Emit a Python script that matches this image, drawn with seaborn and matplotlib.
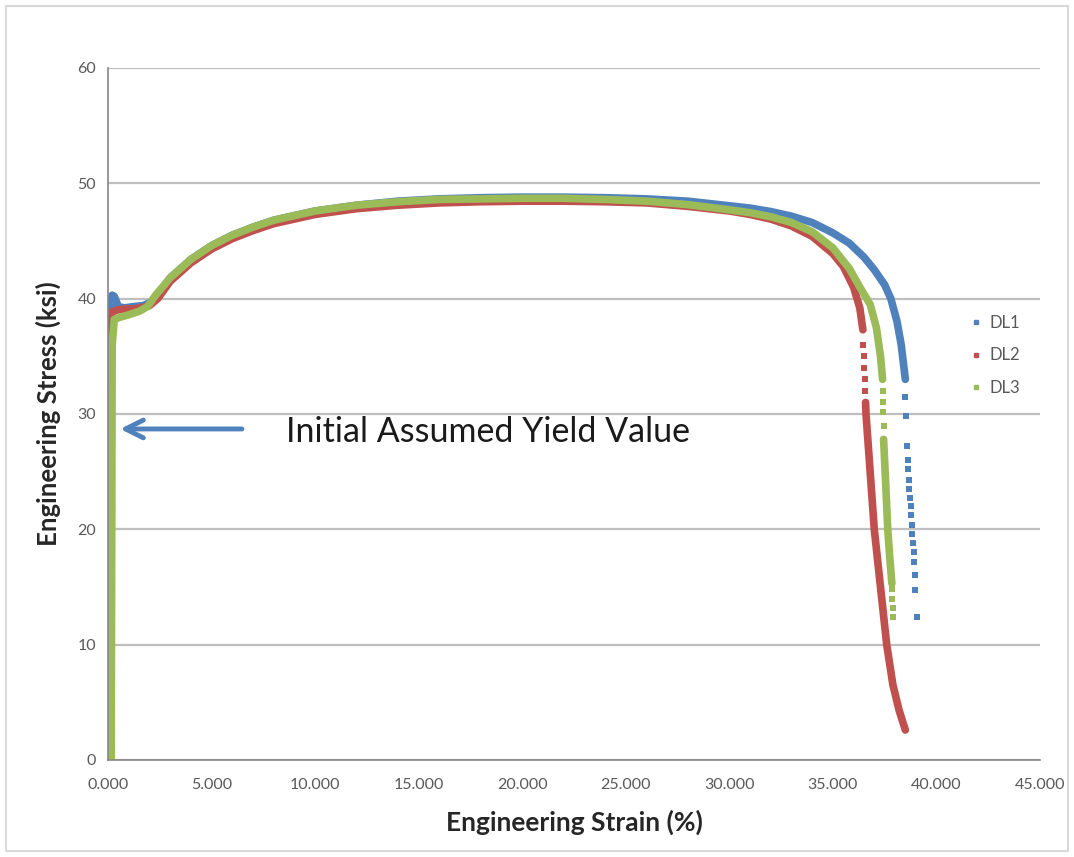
import matplotlib
matplotlib.use("Agg")
import matplotlib.pyplot as plt
from matplotlib.lines import Line2D
from matplotlib.patches import Rectangle
import seaborn as sns
import pandas as pd

# curvas (deformacion %, esfuerzo ksi)
dl1_strain = [0.05, 0.1, 0.15, 0.2, 0.3, 0.5, 0.8, 1.2, 1.7, 2.2, 2.5, 3, 4, 5, 6, 7, 8, 9, 10,
              12, 14, 16, 18, 20, 22, 24, 26, 28, 30, 31, 32, 33, 34, 35, 35.8, 36.5, 37,
              37.5, 37.8, 38.1, 38.3, 38.4, 38.5]
dl1_stress = [0, 20, 38, 40.3, 40.2, 39.3, 39.2, 39.3, 39.4, 39.8, 40.6, 41.8, 43.4, 44.6, 45.5,
              46.2, 46.8, 47.2, 47.6, 48.1, 48.45, 48.65, 48.75, 48.8, 48.8, 48.75, 48.65,
              48.45, 48.05, 47.85, 47.55, 47.15, 46.6, 45.7, 44.8, 43.6, 42.5, 41.2, 40.0,
              38.0, 36.0, 34.5, 33.0]
dl1_tail_strain = [38.5, 38.55, 38.6, 38.62, 38.65, 38.68, 38.7, 38.72, 38.75, 38.78, 38.8,
                   38.83, 38.86, 38.9, 38.93, 38.95, 38.97, 39.05]
dl1_tail_stress = [31.5, 29.8, 27.2, 26.0, 25.2, 24.3, 23.5, 22.7, 22.0, 21.2, 20.4, 19.6,
                   18.8, 18.0, 17.2, 16.0, 14.7, 12.4]

dl2_strain = [0.05, 0.08, 0.1, 0.15, 0.4, 0.8, 1.2, 1.6, 2.0, 2.4, 3, 4, 5, 6, 7, 8, 9, 10,
              12, 14, 16, 18, 20, 22, 24, 26, 28, 30, 31, 32, 33, 34, 35, 35.5, 36, 36.3, 36.45]
dl2_stress = [0, 20, 37, 38.8, 39.0, 39.1, 39.1, 39.2, 39.4, 40.0, 41.5, 43.1, 44.3, 45.2, 45.9,
              46.5, 46.9, 47.3, 47.8, 48.1, 48.3, 48.4, 48.45, 48.45, 48.4, 48.3, 48.0, 47.6,
              47.3, 46.9, 46.3, 45.4, 43.9, 42.8, 41.0, 39.2, 37.3]
dl2_tail_strain = [36.47, 36.5, 36.52, 36.55, 36.57]
dl2_tail_stress = [36.0, 35.0, 34.0, 33.0, 32.0]
dl2_drop_strain = [36.58, 36.6, 36.8, 37.0, 37.3, 37.6, 37.9, 38.2, 38.5]
dl2_drop_stress = [31.0, 30.0, 25.0, 20.0, 15.0, 10.0, 6.5, 4.3, 2.6]

dl3_strain = [0.15, 0.18, 0.2, 0.3, 0.6, 1.0, 1.5, 1.9, 2.3, 3, 4, 5, 6, 7, 8, 9, 10, 12, 14,
              16, 18, 20, 22, 24, 26, 28, 30, 31, 32, 33, 34, 35, 35.8, 36.3, 36.8, 37.1,
              37.3, 37.4]
dl3_stress = [0, 20, 36, 38.2, 38.4, 38.6, 38.9, 39.3, 40.3, 41.8, 43.4, 44.6, 45.5, 46.2, 46.8,
              47.2, 47.6, 48.1, 48.4, 48.6, 48.65, 48.7, 48.7, 48.6, 48.45, 48.15, 47.7, 47.45,
              47.1, 46.6, 45.8, 44.4, 42.6, 41.0, 39.5, 37.5, 35.0, 33.0]
dl3_tail_strain = [37.4, 37.42, 37.42, 37.45]
dl3_tail_stress = [32.0, 31.0, 30.2, 29.0]
dl3_drop_strain = [37.45, 37.55, 37.65, 37.75, 37.85]
dl3_drop_stress = [27.8, 24.0, 20.0, 17.5, 15.3]
dl3_end_strain = [37.85, 37.87, 37.9, 37.9]
dl3_end_stress = [14.8, 14.0, 13.2, 12.4]

x_ticks = [0, 5, 10, 15, 20, 25, 30, 35, 40, 45]
y_ticks = [0, 10, 20, 30, 40, 50, 60]
series = ["DL1", "DL2", "DL3"]
colores = ["#4F81BD", "#C0504D", "#9BBB59"]

sns.set_style("white")
plt.rcParams["font.family"] = ["Lato", "DejaVu Sans"]

fig = plt.figure(figsize=(10.74, 8.57), dpi=100)
ax = fig.add_axes([0.1006, 0.1132, 0.8677, 0.8075])

fig.patches.append(Rectangle((0.006, 0.007), 0.988, 0.986, transform=fig.transFigure,
                             fill=False, edgecolor="#D9D9D9", linewidth=1.5))

ax.grid(axis="y", color="#BFBFBF", linewidth=1.6)
ax.set_axisbelow(True)

lw = 5.5
ms = 16
# DL1
sns.lineplot(x=dl1_strain, y=dl1_stress, sort=False, estimator=None, color=colores[0],
             linewidth=lw, ax=ax, solid_capstyle="round")
sns.scatterplot(x=dl1_tail_strain, y=dl1_tail_stress, color=colores[0], s=ms,
                marker="s", linewidth=0, ax=ax)
# DL2
sns.lineplot(x=dl2_strain, y=dl2_stress, sort=False, estimator=None, color=colores[1],
             linewidth=lw, ax=ax, solid_capstyle="round")
sns.scatterplot(x=dl2_tail_strain, y=dl2_tail_stress, color=colores[1], s=ms,
                marker="s", linewidth=0, ax=ax)
sns.lineplot(x=dl2_drop_strain, y=dl2_drop_stress, sort=False, estimator=None,
             color=colores[1], linewidth=lw, ax=ax, solid_capstyle="round")
# DL3
sns.lineplot(x=dl3_strain, y=dl3_stress, sort=False, estimator=None, color=colores[2],
             linewidth=lw, ax=ax, solid_capstyle="round")
sns.scatterplot(x=dl3_tail_strain, y=dl3_tail_stress, color=colores[2], s=ms,
                marker="s", linewidth=0, ax=ax)
sns.lineplot(x=dl3_drop_strain, y=dl3_drop_stress, sort=False, estimator=None,
             color=colores[2], linewidth=lw, ax=ax, solid_capstyle="round")
sns.scatterplot(x=dl3_end_strain, y=dl3_end_stress, color=colores[2], s=ms,
                marker="s", linewidth=0, ax=ax)

ax.set_xlim(0, 45)
ax.set_ylim(0, 60)
ax.set_xticks(x_ticks)
ax.set_xticklabels([f"{t:.3f}" for t in x_ticks])
ax.set_yticks(y_ticks)
ax.tick_params(axis="both", colors="#868686", labelcolor="#595959", labelsize=11.5,
               direction="out", length=5, width=1)
ax.tick_params(axis="x", pad=8)
for lado in ["top", "right"]:
    ax.spines[lado].set_visible(False)
for lado in ["left", "bottom"]:
    ax.spines[lado].set_color("#868686")
    ax.spines[lado].set_linewidth(1.2)

ax.set_xlabel("Engineering Strain (%)", fontsize=19, fontweight="bold", color="#262626",
              labelpad=13)
ax.set_ylabel("Engineering Stress (ksi)", fontsize=18.5, fontweight="bold", color="#262626",
              labelpad=12)

# flecha y texto
ax.annotate("", xy=(0.45, 28.7), xytext=(6.6, 28.7),
            arrowprops=dict(arrowstyle="->", color="#4F81BD", lw=3.5, mutation_scale=32))
ax.text(8.6, 28.4, "Initial Assumed Yield Value", fontsize=24.5, color="#1A1A1A",
        va="center", ha="left")

handles = [Line2D([], [], linestyle="none", marker="s", markersize=3.5, color=c) for c in colores]
ax.legend(handles, series, loc="upper left", bbox_to_anchor=(0.91, 0.665), frameon=False,
          fontsize=12, labelcolor="#595959", handlelength=0.6, handletextpad=0.5,
          labelspacing=1.0)

plt.savefig("out.png", dpi=100)
